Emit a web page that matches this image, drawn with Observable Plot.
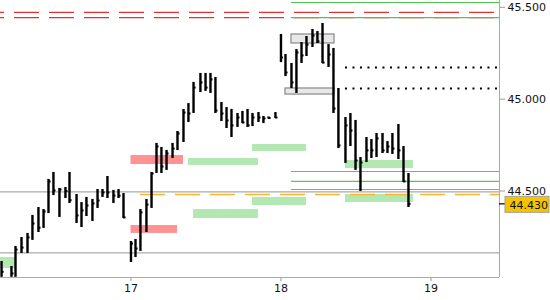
<!DOCTYPE html>
<html><head><meta charset="utf-8">
<script src="https://cdn.jsdelivr.net/npm/d3@7"></script>
<script src="https://cdn.jsdelivr.net/npm/@observablehq/plot@0.6"></script>
<style>
body{margin:0;background:#fff;}
#chart svg{display:block;font-family:"DejaVu Sans",sans-serif;}
</style>
</head><body><div id="chart"></div>
<script>
// bar times (day of month, fractional)
const times = [16.137,16.203,16.230,16.270,16.310,16.343,16.383,16.417,16.450,16.483,16.523,16.563,16.590,16.637,16.670,16.703,16.743,16.777,16.810,16.843,16.883,16.917,16.950,
  17.000,17.030,17.063,17.103,17.137,17.170,17.203,17.237,17.277,17.310,17.350,17.383,17.417,17.463,17.497,17.530,17.563,17.603,17.637,17.670,17.710,17.743,17.777,17.810,17.850,17.883,17.917,17.963,
  18.000,18.030,18.070,18.103,18.137,18.170,18.210,18.243,18.277,18.317,18.350,18.383,18.430,18.463,18.497,18.530,18.570,18.603,18.637,18.677,18.710,18.743,18.783,18.817,18.850];
const highs = [44.116,44.089,44.198,44.247,44.269,44.367,44.410,44.399,44.563,44.601,44.514,44.519,44.601,44.481,44.437,44.465,44.454,44.508,44.508,44.579,44.503,44.508,44.486,
  44.225,44.236,44.399,44.454,44.601,44.759,44.737,44.721,44.759,44.824,44.944,44.976,45.091,45.140,45.140,45.140,45.118,44.982,44.954,44.944,44.922,44.933,44.944,44.922,44.927,44.906,44.903,44.927,
  45.352,45.243,45.194,45.270,45.308,45.341,45.379,45.368,45.412,45.297,45.276,45.058,44.900,44.922,44.884,44.682,44.791,44.780,44.813,44.813,44.769,44.813,44.862,44.742,44.595];
const lows = [44.030,44.030,44.030,44.160,44.160,44.231,44.274,44.296,44.377,44.475,44.356,44.459,44.432,44.323,44.301,44.361,44.334,44.405,44.465,44.459,44.432,44.459,44.350,
  44.111,44.138,44.171,44.274,44.405,44.595,44.595,44.612,44.677,44.720,44.764,44.873,44.922,45.036,45.042,45.031,44.922,44.878,44.840,44.791,44.846,44.867,44.846,44.851,44.873,44.867,44.892,44.895,
  45.199,45.123,45.058,45.031,45.194,45.232,45.281,45.303,45.194,45.172,44.922,44.731,44.650,44.742,44.612,44.497,44.655,44.677,44.682,44.704,44.704,44.699,44.671,44.546,44.410];
const closes = [44.060,44.051,44.181,44.192,44.247,44.323,44.300,44.388,44.552,44.503,44.508,44.500,44.450,44.367,44.394,44.421,44.432,44.448,44.492,44.492,44.475,44.475,44.356,
  44.214,44.187,44.383,44.426,44.595,44.742,44.633,44.704,44.731,44.813,44.927,44.922,45.063,45.091,45.063,45.107,44.938,44.922,44.884,44.857,44.900,44.873,44.857,44.900,44.900,44.895,44.897,44.900,
  45.227,45.145,45.091,45.254,45.238,45.297,45.346,45.314,45.199,45.243,44.949,44.748,44.857,44.829,44.666,44.655,44.721,44.721,44.786,44.721,44.742,44.731,44.721,44.552,44.430];

const xTicks = [17, 18, 19];
const yTicks = [44.5, 45.0, 45.5];
const lastPrice = 44.430;
const xDomain = [16.13, 19.457];
const yDomain = [44.029, 45.537];

// zones: [start, end, low, high]
const greenZones = [[16.13,16.23,44.078,44.138],[17.383,17.85,44.639,44.677],[17.81,18.17,44.715,44.753],[17.81,18.17,44.421,44.465],[17.417,17.85,44.350,44.399],[18.43,18.883,44.622,44.666],[18.43,18.883,44.437,44.481]];
const redZones = [[17.0,17.35,44.644,44.693],[17.0,17.31,44.269,44.312]];
const grayBoxes = [[18.07,18.357,45.303,45.352],[18.03,18.357,45.025,45.058]];

// horizontal levels
const redDashLevels = [45.472, 45.444];
const greenTopLevels = [45.526, 45.444];
const greenLowLevels = [44.606, 44.552, 44.508];
const greenLineStart = 18.07;
const dottedLevels = [45.172, 45.058];
const dottedStart = 18.43;
const orangeLevel = [44.481];
const orangeStart = 17.063;
const grayLevels = [44.495, 44.163];

const bars = times.map((t, i) => ({t, high: highs[i], low: lows[i], close: closes[i]}));
const zone = z => ({x1: z[0], x2: z[1], y1: z[2], y2: z[3]});

const chart = Plot.plot({
  width: 550, height: 300,
  marginLeft: 0, marginRight: 51, marginTop: 0, marginBottom: 23,
  x: {domain: xDomain},
  y: {domain: yDomain},
  style: {fontFamily: "DejaVu Sans", fontSize: "11px", background: "#fff"},
  marks: [
    Plot.rect(greenZones.map(zone), {x1: "x1", x2: "x2", y1: "y1", y2: "y2", fill: "#b3e8b3"}),
    Plot.rect(redZones.map(zone), {x1: "x1", x2: "x2", y1: "y1", y2: "y2", fill: "#ff9393"}),
    Plot.rect(grayBoxes.map(zone), {x1: "x1", x2: "x2", y1: "y1", y2: "y2", fill: "#e8e8e8", stroke: "#888", strokeWidth: 1.2}),
    Plot.ruleY(grayLevels, {stroke: "#aaa", strokeWidth: 1.2}),
    Plot.ruleY(redDashLevels, {stroke: "#e83030", strokeWidth: 1.2, strokeDasharray: "25,10", strokeDashoffset: 21}),
    Plot.ruleY(greenTopLevels, {x1: greenLineStart, x2: xDomain[1], stroke: "#4fc44f", strokeWidth: 1.2}),
    Plot.ruleY(greenLowLevels, {x1: greenLineStart, x2: xDomain[1], stroke: "#5cc45c", strokeWidth: 1.2}),
    Plot.ruleY(dottedLevels, {x1: dottedStart, x2: xDomain[1], stroke: "#000", strokeWidth: 2, strokeDasharray: "2,5.5"}),
    Plot.ruleY(orangeLevel, {x1: orangeStart, x2: xDomain[1], stroke: "#fdb52a", strokeWidth: 1.4, strokeDasharray: "25,10"}),
    Plot.ruleX(bars, {x: "t", y1: "low", y2: "high", stroke: "#000", strokeWidth: 2.4}),
    Plot.ruleY(bars, {y: "close", x1: "t", x2: d => d.t + 0.017, stroke: "#000", strokeWidth: 2}),
    Plot.axisX(xTicks, {anchor: "bottom", tickSize: 4, tickPadding: 3, fontSize: 11, stroke: "#999", fill: "#111", tickFormat: d => String(d), label: null}),
    Plot.axisY(yTicks, {anchor: "right", tickSize: 5, tickPadding: 3, fontSize: 11, stroke: "#999", fill: "#111", tickFormat: d3.format(".3f"), label: null}),
    Plot.ruleY([yDomain[0]], {stroke: "#aaa"}),
    Plot.ruleX([xDomain[1]], {stroke: "#aaa"}),
    Plot.ruleY([lastPrice], {x1: xDomain[1], x2: xDomain[1] + 0.04, stroke: "#000", strokeWidth: 1.2}),
    Plot.rect([lastPrice], {x1: xDomain[1], x2: xDomain[1], y1: d => d, y2: d => d, insetLeft: 6, insetRight: -50, insetTop: -7, insetBottom: -9, fill: "#f6c300", stroke: "#a0a0a0"}),
    Plot.text([lastPrice], {x: xDomain[1], y: d => d, text: d => d.toFixed(3), dx: 10, dy: 1.5, textAnchor: "start", fontSize: 11, fill: "#111"})
  ]
});
document.getElementById("chart").appendChild(chart);
</script>
</body></html>
